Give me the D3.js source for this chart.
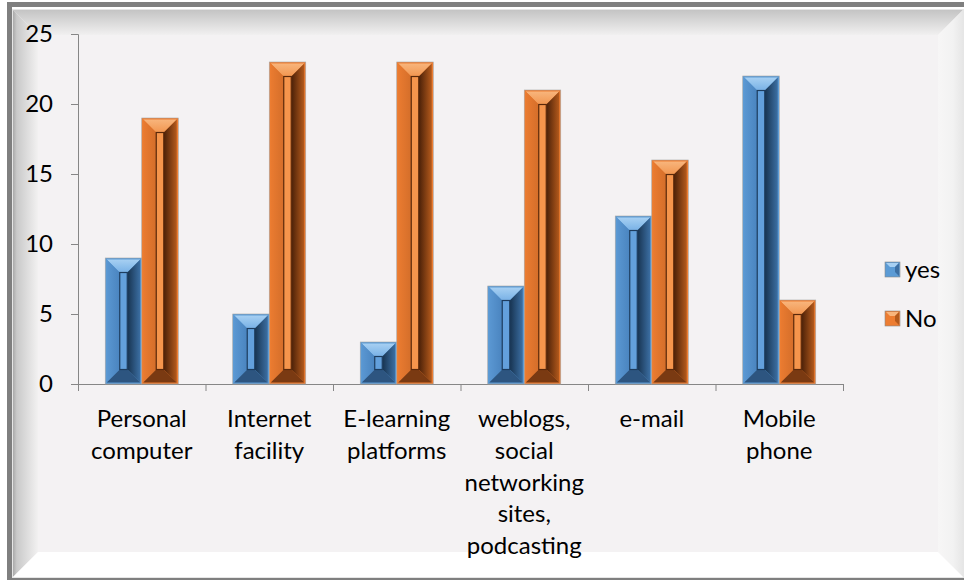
<!DOCTYPE html>
<html>
<head>
<meta charset="utf-8">
<script src="https://cdn.jsdelivr.net/npm/d3@7"></script>
<style>
  body { margin: 0; background: #ffffff; }
  svg { display: block; }
  text { font-family: Lato, "Noto Sans", sans-serif; fill: #000; }
</style>
</head>
<body>
<svg id="chart"></svg>
<script>
var categories = ["Personal computer", "Internet facility", "E-learning platforms",
  "weblogs, social networking sites, podcasting", "e-mail", "Mobile phone"];
var seriesNames = ["yes", "No"];
var yesValues = [9, 5, 3, 7, 12, 22];
var noValues = [19, 23, 23, 21, 16, 6];
var yTicks = [0, 5, 10, 15, 20, 25];

var W = 964, H = 580;
var svg = d3.select("#chart").attr("width", W).attr("height", H);
var defs = svg.append("defs");

function linGrad(id, x1, y1, x2, y2, stops) {
  var g = defs.append("linearGradient").attr("id", id)
    .attr("x1", x1).attr("y1", y1).attr("x2", x2).attr("y2", y2);
  stops.forEach(function (s) {
    g.append("stop").attr("offset", s[0]).attr("stop-color", s[1]);
  });
}

/* frame */
var fx0 = 13, fy0 = 10, fx1 = 963, fy1 = 577, fb = 25;
svg.append("rect").attr("x", 9.5).attr("y", 4.5).attr("width", 962).attr("height", 573)
  .attr("fill", "none").attr("stroke", "#7f7f7f").attr("stroke-width", 5);
svg.append("rect").attr("x", fx0).attr("y", fy0).attr("width", fx1 - fx0).attr("height", fy1 - fy0)
  .attr("fill", "#f4f2f3");

linGrad("frameTop", 0, 0, 0, 1, [[0, "#c4c4c4"], [1, "#f1f0f0"]]);
linGrad("frameLeft", 0, 0, 1, 0, [[0, "#a9a9a9"], [0.15, "#c9c9c9"], [1, "#f2f1f1"]]);
linGrad("frameRight", 0, 0, 1, 0, [[0, "#f7f6f6"], [0.6, "#f2f2f2"], [1, "#e6e6e6"]]);

function poly(pts, fill) {
  svg.append("polygon").attr("points", pts.map(function (p) { return p.join(","); }).join(" "))
    .attr("fill", fill);
}
poly([[fx0, fy0], [fx1, fy0], [fx1 - fb, fy0 + fb], [fx0 + fb, fy0 + fb]], "url(#frameTop)");
poly([[fx0, fy0], [fx0 + fb, fy0 + fb], [fx0 + fb, fy1 - fb], [fx0, fy1]], "url(#frameLeft)");
poly([[fx1, fy0], [fx1, fy1], [fx1 - fb, fy1 - fb], [fx1 - fb, fy0 + fb]], "url(#frameRight)");
poly([[fx0, fy1], [fx0 + fb, fy1 - fb], [fx1 - fb, fy1 - fb], [fx1, fy1]], "#ffffff");
svg.append("rect").attr("x", fx0 - 0.5).attr("y", fy0 - 0.5).attr("width", fx1 - fx0 + 1).attr("height", fy1 - fy0 + 1)
  .attr("fill", "none").attr("stroke", "#e6e6e6").attr("stroke-width", 1);

/* scales */
var plotL = 78, plotR = 843, plotT = 34, plotB = 384;
var x = d3.scaleBand().domain(categories).range([plotL, plotR]).paddingInner(0).paddingOuter(0);
var xs = d3.scaleBand().domain(seriesNames).range([0, x.bandwidth()]).paddingInner(0).paddingOuter(0.746);
var y = d3.scaleLinear().domain([0, 25]).range([plotB, plotT]);
var xEdge = d3.scaleLinear().domain([0, categories.length]).range([plotL, plotR]);

var fontSize = 24;

/* y axis */
var yAxis = svg.append("g").attr("transform", "translate(" + plotL + ",0)")
  .call(d3.axisLeft(y).tickValues(yTicks).tickSize(7).tickPadding(18).tickFormat(d3.format("d")));
yAxis.select(".domain").attr("stroke", "#868686");
yAxis.selectAll(".tick line").attr("stroke", "#868686");
yAxis.selectAll("text").style("font-size", fontSize + "px").attr("fill", "#000")
  .style("font-family", "Lato, sans-serif");

/* x axis */
var xAxis = svg.append("g").attr("transform", "translate(0," + plotB + ")")
  .call(d3.axisBottom(xEdge).ticks(categories.length).tickSize(7).tickFormat(""));
xAxis.select(".domain").attr("stroke", "#868686");
xAxis.selectAll(".tick line").attr("stroke", "#868686");

var labels = svg.append("g").selectAll("text").data(categories).enter().append("text")
  .attr("x", function (d) { return x(d) + x.bandwidth() / 2; })
  .attr("y", 427)
  .attr("text-anchor", "middle")
  .style("font-size", fontSize + "px");
labels.each(function (d) {
  var t = d3.select(this);
  d.split(" ").forEach(function (w, i) {
    t.append("tspan").attr("x", x(d) + x.bandwidth() / 2).attr("dy", i === 0 ? 0 : 31.8).text(w);
  });
});

/* bevel bars */
var pal = {
  yes: { rim: "#5b9bd5", top: ["#a7d0f2", "#78b1e6"], left: ["#5a97d2", "#4a84bf"],
         right: ["#173350", "#3c6fa3"], bottom: "#2d5580", mid: "#63a0dc", edge: "#1d3c5e" },
  No: { rim: "#ed7d31", top: ["#f8b57c", "#f29650"], left: ["#ea7b30", "#d46e2a"],
        right: ["#4a2008", "#b45a1c"], bottom: "#7a3a12", mid: "#f5954c", edge: "#5a280a" }
};
seriesNames.forEach(function (s) {
  var p = pal[s];
  linGrad("top_" + s, 0, 0, 0, 1, [[0, p.top[0]], [1, p.top[1]]]);
  linGrad("left_" + s, 0, 0, 1, 0, [[0, p.left[0]], [1, p.left[1]]]);
  linGrad("right_" + s, 0, 0, 1, 0, [[0, p.right[0]], [1, p.right[1]]]);
});

function bevelBar(g, s, bx, by, bw, bh) {
  var p = pal[s];
  g.append("rect").attr("x", bx).attr("y", by).attr("width", bw).attr("height", bh)
    .attr("fill", p.rim).attr("stroke", "#a6a6a6").attr("stroke-width", 0.6);
  var r = 1.5, d = Math.min(13, (bw - 2 * r) / 2 - 3, (bh - 2 * r) / 2);
  var x0 = bx + r, x1 = bx + bw - r, y0 = by + r, y1 = by + bh - r;
  function pg(pts, fill) {
    g.append("polygon").attr("points", pts.map(function (q) { return q.join(","); }).join(" "))
      .attr("fill", fill);
  }
  pg([[x0, y0], [x1, y0], [x1 - d, y0 + d], [x0 + d, y0 + d]], "url(#top_" + s + ")");
  pg([[x0, y0], [x0 + d, y0 + d], [x0 + d, y1 - d], [x0, y1]], "url(#left_" + s + ")");
  pg([[x1, y0], [x1, y1], [x1 - d, y1 - d], [x1 - d, y0 + d]], "url(#right_" + s + ")");
  pg([[x0, y1], [x0 + d, y1 - d], [x1 - d, y1 - d], [x1, y1]], p.bottom);
  g.append("rect").attr("x", x0 + d).attr("y", y0 + d)
    .attr("width", Math.max(0, x1 - x0 - 2 * d)).attr("height", Math.max(0, y1 - y0 - 2 * d))
    .attr("fill", p.mid).attr("stroke", p.edge).attr("stroke-width", 1.2);
}

var bars = svg.append("g");
var seriesData = { yes: yesValues, No: noValues };
categories.forEach(function (c, i) {
  seriesNames.forEach(function (s) {
    var v = seriesData[s][i];
    bevelBar(bars, s, x(c) + xs(s), y(v), xs.bandwidth(), y(0) - y(v));
  });
});

/* legend */
var legend = svg.append("g");
seriesNames.forEach(function (s, i) {
  var ly = 262 + i * 49;
  var lg = legend.append("g");
  var p = pal[s];
  lg.append("rect").attr("x", 885).attr("y", ly).attr("width", 15).attr("height", 15)
    .attr("fill", p.rim).attr("stroke", "#8a8a8a").attr("stroke-width", 0.6);
  lg.append("polygon").attr("points", [[886, ly + 1], [899, ly + 1], [895, ly + 5], [890, ly + 5]].join(" "))
    .attr("fill", p.top[0]);
  lg.append("polygon").attr("points", [[899, ly + 1], [899, ly + 14], [895, ly + 10], [895, ly + 5]].join(" "))
    .attr("fill", p.right[1]);
  lg.append("text").attr("x", 905).attr("y", ly + 7.5).attr("dy", "0.35em")
    .style("font-size", fontSize + "px").text(s);
});
</script>
</body>
</html>
